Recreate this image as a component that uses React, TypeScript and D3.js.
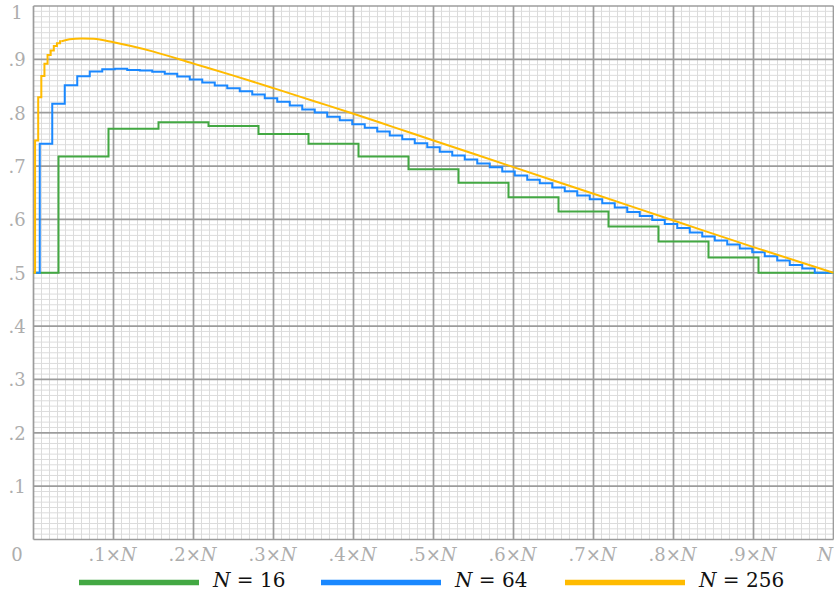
import React from "react";
import * as d3 from "d3";

const W = 834;
const H = 593;

// N = 16: value at cutoff k = 0..16
const n16Values = [0.5, 0.718, 0.77, 0.782, 0.775, 0.76, 0.742, 0.718, 0.694, 0.6685, 0.6416, 0.6147, 0.5866, 0.5585, 0.5285, 0.5, 0.5];

// N = 64: value at cutoff k = 0..64
const n64Values = [
  0.5, 0.7416, 0.817, 0.8516, 0.8685, 0.877, 0.8816, 0.8822, 0.88, 0.879,
  0.8766, 0.8728, 0.868, 0.8622, 0.8566, 0.851, 0.846, 0.8404, 0.834, 0.8272,
  0.8203, 0.8134, 0.806, 0.8003, 0.7922, 0.786, 0.7785, 0.7716, 0.7647, 0.7572,
  0.7504, 0.7429, 0.7354, 0.727, 0.72, 0.7122, 0.7047, 0.6979, 0.6897, 0.6822,
  0.6741, 0.6679, 0.6597, 0.6529, 0.6447, 0.638, 0.6304, 0.6222, 0.6141, 0.6066,
  0.5991, 0.5916, 0.5841, 0.5753, 0.5678, 0.5603, 0.5528, 0.5453, 0.5385, 0.531,
  0.5228, 0.5147, 0.5078, 0.5, 0.5,
];

// N = 256: visible steps at k = 0..9
const n256StepValues = [0.5, 0.748, 0.829, 0.869, 0.8916, 0.908, 0.9166, 0.925, 0.93, 0.934];
// N = 256: smooth part, read at fractions of N
const n256SmoothX = [9 / 256, 0.045, 0.06, 0.075, 0.1, 0.15, 0.2, 0.25, 0.3, 0.35, 0.4, 0.45, 0.5, 0.6, 0.7, 0.8, 0.9, 1.0];
const n256SmoothY = [0.934, 0.9375, 0.9393, 0.9385, 0.932, 0.9145, 0.892, 0.8695, 0.846, 0.822, 0.798, 0.773, 0.748, 0.698, 0.648, 0.598, 0.548, 0.5];

const yTicks = [0.1, 0.2, 0.3, 0.4, 0.5, 0.6, 0.7, 0.8, 0.9, 1];
const yTickLabels = [".1", ".2", ".3", ".4", ".5", ".6", ".7", ".8", ".9", "1"];
const xTicks = [0.1, 0.2, 0.3, 0.4, 0.5, 0.6, 0.7, 0.8, 0.9];
const xTickLabels = [".1×", ".2×", ".3×", ".4×", ".5×", ".6×", ".7×", ".8×", ".9×"];

const legendNames = ["16", "64", "256"];
const colors = ["#43a843", "#1a88ff", "#ffbb00"];

const SERIF = "DejaVu Serif";

export default function App() {
  const left = 33.5, right = 833.5, top = 6, bottom = 539.5;
  const x = d3.scaleLinear().domain([0, 1]).range([left, right]);
  const y = d3.scaleLinear().domain([0, 1]).range([bottom, top]);

  const minor = d3.range(1, 100).filter((i) => i % 10 !== 0).map((i) => i / 100);
  const major = d3.range(0, 11).map((i) => i / 10);

  const stepLine = d3.line<[number, number]>().x((d) => x(d[0])).y((d) => y(d[1])).curve(d3.curveStep);
  const smoothLine = d3.line<[number, number]>().x((d) => x(d[0])).y((d) => y(d[1])).curve(d3.curveMonotoneX);

  const p16 = stepLine(n16Values.map((v, k) => [k / 16, v] as [number, number]));
  const p64 = stepLine(n64Values.map((v, k) => [k / 64, v] as [number, number]));
  const p256a = stepLine(n256StepValues.map((v, k) => [k / 256, v] as [number, number]));
  const p256b = smoothLine(n256SmoothX.map((xv, i) => [xv, n256SmoothY[i]] as [number, number]));

  const tickColor = "#adadad";
  const legendX = [79, 321, 565];

  return (
    <svg width={W} height={H} style={{ position: "absolute", left: 0, top: 0, background: "#fff" }}>
      <rect x={0} y={0} width={W} height={H} fill="#fff" />
      <g>
        {minor.map((v) => (
          <line key={"mx" + v} x1={x(v)} x2={x(v)} y1={top} y2={bottom} stroke="#dcdcdc" strokeWidth={1} />
        ))}
        {minor.map((v) => (
          <line key={"my" + v} x1={left} x2={right} y1={y(v)} y2={y(v)} stroke="#dcdcdc" strokeWidth={1} />
        ))}
        {major.map((v) => (
          <line key={"Mx" + v} x1={x(v)} x2={x(v)} y1={top} y2={bottom} stroke="#9c9c9c" strokeWidth={1.7} />
        ))}
        {major.map((v) => (
          <line key={"My" + v} x1={left} x2={right} y1={y(v)} y2={y(v)} stroke="#9c9c9c" strokeWidth={1.7} />
        ))}
      </g>
      <g fill="none" strokeWidth={2} strokeLinejoin="miter">
        <path d={p16 || ""} stroke={colors[0]} />
        <path d={p64 || ""} stroke={colors[1]} />
        <path d={p256a || ""} stroke={colors[2]} />
        <path d={p256b || ""} stroke={colors[2]} />
      </g>
      <g fontFamily={SERIF} fontSize={18} fill={tickColor}>
        {yTicks.map((v, i) => (
          <text key={"yl" + v} x={17} y={v === 1 ? 18.5 : y(v) + 7} textAnchor="middle">
            {yTickLabels[i]}
          </text>
        ))}
        <text x={17} y={561} textAnchor="middle">0</text>
        {xTicks.map((v, i) => (
          <text key={"xl" + v} x={x(v) - 1} y={561} textAnchor="middle">
            {xTickLabels[i]}
            <tspan fontStyle="italic">N</tspan>
          </text>
        ))}
        <text x={833} y={561} textAnchor="end" fontStyle="italic">N</text>
      </g>
      <g fontFamily={SERIF} fontSize={20} fill="#111">
        {legendNames.map((name, i) => (
          <g key={name}>
            <line x1={legendX[i]} x2={legendX[i] + 120} y1={582.5} y2={582.5} stroke={colors[i]} strokeWidth={5.5} />
            <text x={legendX[i] + 134} y={587}>
              <tspan fontStyle="italic">N</tspan>
              {" = " + name}
            </text>
          </g>
        ))}
      </g>
    </svg>
  );
}
